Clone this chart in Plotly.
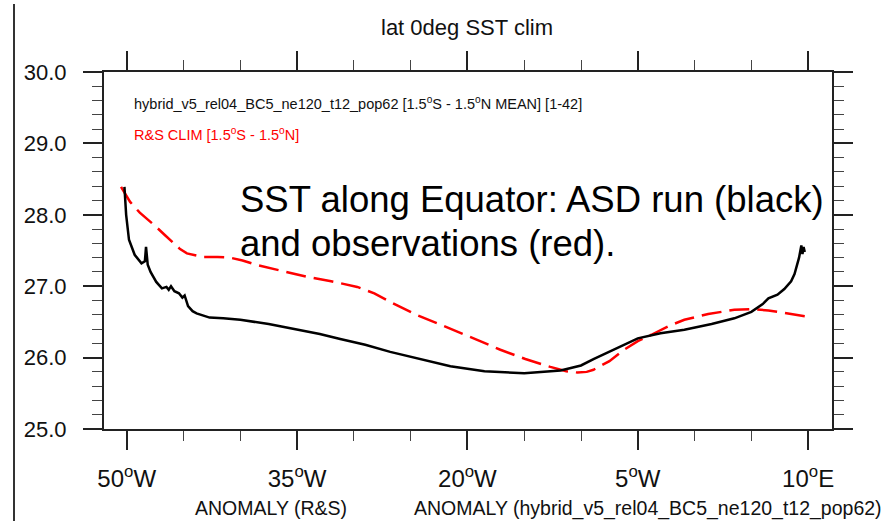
import plotly.graph_objects as go

# Model SST along the equator (1.5S-1.5N mean), degC
model_lon = [-50.2, -50.05, -49.8, -49.3, -48.7, -48.4, -48.3, -48.15, -47.9, -47.4,
             -46.9, -46.5, -46.3, -46.1, -45.8, -45.4, -45.1, -44.9, -44.6, -44.2,
             -43.85, -43.2, -42.7, -41.5, -40.0, -37.5, -35.6, -33.0, -31.2, -29.0,
             -26.8, -24.0, -21.5, -18.5, -15.0, -11.8, -10.0, -8.9, -7.0, -5.0,
             -3.0, -0.9, 1.5, 3.5, 5.0, 6.0, 6.5, 7.3, 7.9, 8.5,
             8.8, 9.2, 9.4, 9.5, 9.6, 9.7]
model_sst = [28.39, 28.0, 27.65, 27.44, 27.32, 27.35, 27.55, 27.3, 27.2, 27.06,
             26.97, 26.99, 26.95, 27.0, 26.93, 26.9, 26.84, 26.87, 26.72, 26.65,
             26.62, 26.58, 26.56, 26.55, 26.53, 26.47, 26.41, 26.33, 26.26, 26.18,
             26.08, 25.97, 25.88, 25.81, 25.78, 25.82, 25.89, 25.98, 26.12, 26.27,
             26.34, 26.39, 26.47, 26.55, 26.64, 26.75, 26.83, 26.88, 26.96, 27.07,
             27.17, 27.4, 27.57, 27.45, 27.55, 27.48]

# R&S observed climatology (1.5S-1.5N), degC
obs_lon = [-50.5, -49.7, -48.85, -48.1, -47.4, -46.6, -45.9, -45.3, -44.7, -44.0,
           -43.3, -42.0, -40.9, -39.8, -38.6, -36.5, -34.1, -32.0, -29.7, -28.2,
           -26.8, -24.5, -21.5, -19.3, -17.1, -14.9, -12.7, -11.3, -10.3, -9.5,
           -8.9, -7.5, -6.2, -5.0, -3.8, -2.3, -0.9, 1.2, 3.5, 5.0,
           6.5, 8.2, 9.7]
obs_sst = [28.39, 28.18, 28.03, 27.93, 27.83, 27.71, 27.60, 27.52, 27.46, 27.43,
           27.41, 27.41, 27.40, 27.36, 27.30, 27.22, 27.13, 27.07, 26.99, 26.90,
           26.78, 26.60, 26.41, 26.26, 26.11, 25.98, 25.87, 25.81, 25.79, 25.80,
           25.83, 25.95, 26.11, 26.23, 26.32, 26.44, 26.53, 26.61, 26.67, 26.68,
           26.66, 26.62, 26.58]

lon_ticks = [-50, -35, -20, -5, 10]
lon_labels = ["50<sup>o</sup>W", "35<sup>o</sup>W", "20<sup>o</sup>W",
              "5<sup>o</sup>W", "10<sup>o</sup>E"]

X_RANGE = [-52.0, 12.1]
Y_RANGE = [25, 30]

FONT = "Liberation Sans, Arial, Helvetica, sans-serif"

fig = go.Figure()
fig.add_trace(go.Scatter(x=obs_lon, y=obs_sst, mode="lines",
                         line=dict(color="#ff0000", width=2.5, dash="20px,8px"),
                         showlegend=False, hoverinfo="skip"))
fig.add_trace(go.Scatter(x=model_lon, y=model_sst, mode="lines",
                         line=dict(color="#000000", width=2.5),
                         showlegend=False))
# transparent copy that anchors the top/right tick axes
fig.add_trace(go.Scatter(x=model_lon, y=model_sst, mode="lines", xaxis="x2", yaxis="y2",
                         line=dict(color="rgba(0,0,0,0)", width=0),
                         showlegend=False, hoverinfo="skip"))

axis_common = dict(
    showgrid=False, zeroline=False, showline=True, linecolor="#222222",
    linewidth=2, ticks="outside", ticklen=19, tickwidth=1.5,
    tickcolor="#222222",
)
x_minor = dict(dtick=5, tick0=0, ticks="outside", ticklen=10, tickwidth=1.2,
               tickcolor="#444444")
y_minor = dict(dtick=0.2, tick0=25, ticks="outside", ticklen=10, tickwidth=1.2,
               tickcolor="#444444")

fig.update_layout(
    xaxis=dict(
        range=X_RANGE, tickmode="array", tickvals=lon_ticks, ticktext=lon_labels,
        tickfont=dict(family=FONT, size=24, color="#111111"), ticklabelstandoff=8,
        minor=x_minor, **axis_common,
    ),
    yaxis=dict(
        range=Y_RANGE, dtick=1, tick0=25, tickformat=".1f",
        tickfont=dict(family=FONT, size=22, color="#111111"), ticklabelstandoff=12,
        minor=y_minor, **axis_common,
    ),
    xaxis2=dict(
        range=X_RANGE, overlaying="x", side="top", anchor="y2",
        tickmode="array", tickvals=lon_ticks, showticklabels=False,
        minor=x_minor, **axis_common,
    ),
    yaxis2=dict(
        range=Y_RANGE, overlaying="y", side="right", anchor="x2",
        dtick=1, tick0=25, showticklabels=False,
        minor=y_minor, **axis_common,
    ),
)

def px_x(px):
    return (px - 104) / 728.0

def px_y(py):
    return (429 - py) / 357.0

annotations = [
    dict(text="lat 0deg SST clim", x=px_x(467), y=px_y(27), size=22,
         color="#111111", xanchor="center"),
    dict(text="hybrid_v5_rel04_BC5_ne120_t12_pop62 [1.5<sup>o</sup>S - 1.5<sup>o</sup>N MEAN] [1-42]",
         x=px_x(132), y=px_y(103), size=14.5, color="#111111", xanchor="left"),
    dict(text="R&S CLIM [1.5<sup>o</sup>S - 1.5<sup>o</sup>N]",
         x=px_x(132), y=px_y(134), size=14.5, color="#ff0000", xanchor="left"),
    dict(text="SST along Equator: ASD run (black)", x=px_x(238), y=px_y(199),
         size=36.5, color="#000000", xanchor="left"),
    dict(text="and observations (red).", x=px_x(238), y=px_y(243),
         size=36.5, color="#000000", xanchor="left"),
    dict(text="ANOMALY (R&S)", x=px_x(271), y=px_y(508), size=19.5,
         color="#111111", xanchor="center"),
    dict(text="ANOMALY (hybrid_v5_rel04_BC5_ne120_t12_pop62)", x=px_x(648),
         y=px_y(508), size=19.5, color="#111111", xanchor="center"),
]
for a in annotations:
    fig.add_annotation(
        text=a["text"], x=a["x"], y=a["y"], xref="paper", yref="paper",
        xanchor=a["xanchor"], yanchor="middle", showarrow=False,
        font=dict(family=FONT, size=a["size"], color=a["color"]),
    )

# thin vertical rule at the far left of the page
fig.add_shape(type="line", xref="paper", yref="paper",
              x0=px_x(14), x1=px_x(14), y0=px_y(521), y1=px_y(4),
              line=dict(color="#333333", width=2))

fig.update_layout(
    width=889, height=521,
    margin=dict(l=104, r=57, t=72, b=92),
    paper_bgcolor="white", plot_bgcolor="white",
    font=dict(family=FONT),
)

fig.write_html("out.html")
